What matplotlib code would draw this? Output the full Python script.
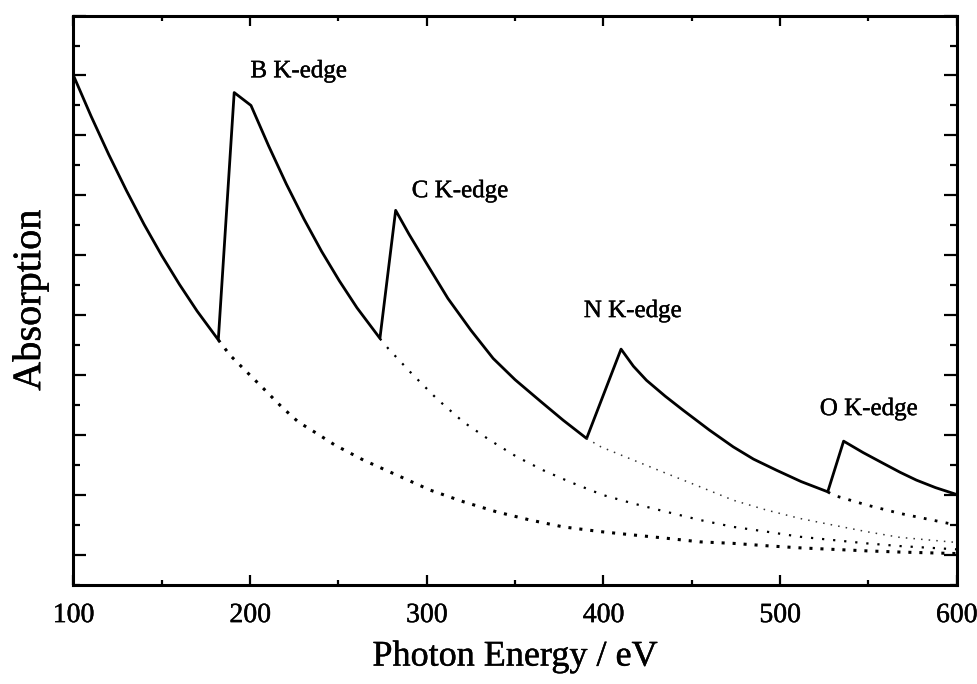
import matplotlib
matplotlib.use('Agg')
import matplotlib.pyplot as plt
import matplotlib.patheffects as pe
from matplotlib.ticker import MultipleLocator

plt.rcParams['font.family'] = ['Liberation Serif', 'DejaVu Serif']

# total absorption (solid)
energy = [100, 110, 120, 130, 140, 150, 160, 170, 182,
          191, 200.5, 210.5, 220.5, 230.5, 240.5, 250.5, 260.5, 273.5,
          282.4, 290, 300, 312, 325, 337.6, 350, 365, 377.2, 390.5,
          410, 417, 424.4, 435, 445.2, 460, 473.5, 485, 498, 512, 527,
          536, 547, 558.4, 568, 577.2, 588, 600]
absorption = [17.0, 15.64, 14.36, 13.16, 12.03, 10.99, 10.03, 9.14, 8.18,
              16.43, 16.0, 14.65, 13.38, 12.21, 11.13, 10.15, 9.25, 8.23,
              12.5, 11.7, 10.72, 9.56, 8.5, 7.56, 6.85, 6.1, 5.5, 4.89,
              7.87, 7.3, 6.83, 6.3, 5.83, 5.17, 4.61, 4.2, 3.83, 3.45, 3.11,
              4.8, 4.42, 4.06, 3.76, 3.5, 3.25, 3.02]

# pre-edge extrapolations (dotted)
b_energy = [182, 188.6, 198.1, 207.5, 217.9, 227.3, 237.7, 248, 264.1, 283, 301.8, 320.7,
            339.6, 358.4, 377.2, 398.6, 416.9, 435.8, 454.6, 473.5, 492.4, 511.3, 530,
            549, 567.8, 600]
b_abs = [8.18, 7.67, 7.11, 6.56, 5.94, 5.44, 5.06, 4.67, 4.17, 3.67, 3.17, 2.78,
         2.44, 2.17, 1.94, 1.78, 1.67, 1.56, 1.44, 1.39, 1.31, 1.24, 1.19,
         1.14, 1.1, 1.05]

c_energy = [273.5, 278.2, 291.4, 305.6, 320.7, 335.8, 350.9, 365.9, 381, 399.9, 416.9,
            435.8, 454.6, 473.5, 492.4, 511.3, 530, 549, 567.8, 600]
c_abs = [8.22, 7.89, 7.06, 6.22, 5.44, 4.83, 4.28, 3.83, 3.44, 3.0, 2.72,
         2.44, 2.17, 1.94, 1.78, 1.61, 1.5, 1.39, 1.3, 1.19]

n_energy = [390.5, 398.6, 416.9, 435.8, 454.6, 473.5, 492.4, 511.3, 530, 549, 567.8, 600]
n_abs = [4.89, 4.61, 4.17, 3.72, 3.28, 2.83, 2.5, 2.22, 2.0, 1.78, 1.59, 1.42]

o_energy = [527, 530, 549, 567.8, 600]
o_abs = [3.11, 3.0, 2.67, 2.39, 2.0]

edge_labels = ['B K-edge', 'C K-edge', 'N K-edge', 'O K-edge']
label_x = [227.6, 318.9, 416.7, 550.3]
label_y = [16.94, 12.94, 8.94, 5.67]

# slight stroke so the serif text looks like the scanned original
ink = [pe.withStroke(linewidth=0.3, foreground='black')]

fig = plt.figure(figsize=(9.78, 6.84), dpi=100)
fig.patch.set_facecolor('white')
ax = fig.add_axes([0.0751, 0.1447, 0.9031, 0.8326])

ax.plot(energy, absorption, color='black', lw=2.0)
ax.plot(b_energy, b_abs, color='black', lw=2.2, linestyle=(0, (1, 2.6)))
ax.plot(c_energy, c_abs, color='black', lw=1.6, linestyle=(0, (1, 4)))
ax.plot(n_energy, n_abs, color='#333333', lw=1.1, linestyle=(0, (1, 4)))
ax.plot(o_energy, o_abs, color='black', lw=2.0, linestyle=(0, (1, 3)))

for txt, x, y in zip(edge_labels, label_x, label_y):
    ax.text(x, y, txt, ha='center', va='baseline', fontsize=18, path_effects=ink)

ax.set_xlim(100, 600)
ax.set_ylim(0, 19)
ax.xaxis.set_major_locator(MultipleLocator(100))
ax.xaxis.set_minor_locator(MultipleLocator(50))
ax.yaxis.set_major_locator(MultipleLocator(2, offset=1))
ax.yaxis.set_minor_locator(MultipleLocator(1))
ax.set_yticklabels([])

ax.tick_params(which='both', direction='in', top=True, right=True, width=1.6)
ax.tick_params(axis='x', which='major', length=7.5, labelsize=20, pad=13)
ax.tick_params(axis='x', which='minor', length=3.5)
ax.tick_params(axis='y', which='major', length=9.5)
ax.tick_params(axis='y', which='minor', length=5)
for s in ax.spines.values():
    s.set_linewidth(2.2)
for lab in ax.get_xticklabels():
    lab.set_path_effects(ink)

ax.set_xlabel('Photon Energy / eV', fontsize=26, labelpad=9, path_effects=ink)
ax.set_ylabel('Absorption', fontsize=29, labelpad=14, path_effects=ink)

fig.savefig('out.png', dpi=100, facecolor='white')
